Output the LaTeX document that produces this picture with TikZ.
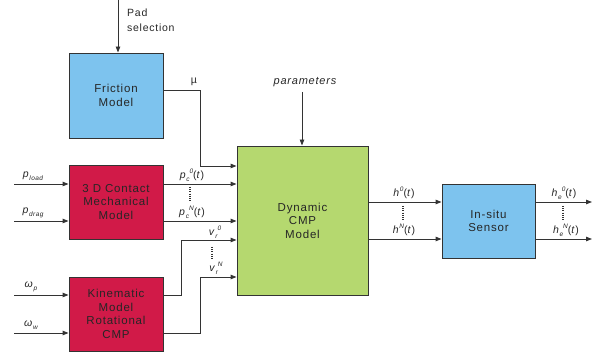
\documentclass[tikz,border=0pt]{standalone}
\usepackage{fontspec}
\setmainfont[LetterSpace=7]{Liberation Sans}
\usetikzlibrary{arrows.meta,calc}
\definecolor{fblue}{HTML}{7DC3EE}
\definecolor{fred}{HTML}{D11A48}
\definecolor{fgreen}{HTML}{B5D86F}
\definecolor{lgray}{HTML}{333333}
\newcommand{\sbsp}[3]{\textit{#1}\raisebox{-0.45ex}{\fontsize{6.5}{6}\selectfont\itshape #2}\raisebox{0.95ex}{\fontsize{6.5}{6}\selectfont\itshape #3}}
\newcommand{\sbx}[2]{\textit{#1}\raisebox{-0.45ex}{\fontsize{6.5}{6}\selectfont\itshape #2}}
\newcommand{\spx}[2]{\textit{#1}\raisebox{0.9ex}{\fontsize{6.5}{6}\selectfont\itshape #2}}
\begin{document}
\begin{tikzpicture}[x=1pt,y=-1pt,
  blk/.style={draw=lgray,line width=0.9pt,minimum width=94pt,minimum height=74pt,inner sep=1pt,align=center,font=\fontsize{11.5}{13.5}\selectfont,text=black!85},
  arr/.style={draw=lgray,line width=0.9pt,-{Triangle[length=6pt,width=4.5pt]}},
  lab/.style={font=\fontsize{10.5}{11}\selectfont,text=black!85,inner sep=0pt},
  dts/.style={draw=lgray,line width=1.3pt,dash pattern=on 1pt off 1.2pt}]
\useasboundingbox (0,0) rectangle (603,358);
\node[blk,fill=fblue,minimum height=85pt] (fric) at (116,95.5) {Friction\\Model};
\node[blk,fill=fred] (contact) at (116,202) {3 D Contact\\Mechanical\\Model};
\node[blk,fill=fred] (kin) at (116,314) {Kinematic\\Model\\Rotational\\CMP};
\node[blk,fill=fgreen,minimum width=131pt,minimum height=149pt] (dyn) at (302.5,220.5) {Dynamic\\CMP\\Model};
\node[blk,fill=fblue,minimum width=93pt] (sens) at (488.5,221) {In-situ\\Sensor};
% top inputs
\coordinate (padtop) at (118,0);
\draw[arr] (padtop) -- (padtop |- fric.north);
\node[lab,align=left,anchor=west,font=\fontsize{10.5}{15}\selectfont] (padlab) at (127,20) {Pad\\selection};
\coordinate (partop) at (302,92);
\draw[arr] (partop) -- (partop |- dyn.north);
\node[lab,font=\fontsize{11}{11}\selectfont\itshape] (parlab) at (305,82) {parameters};
% mu
\coordinate (mu1) at (163,90);
\draw[arr] (mu1) -- (200,90) |- (dyn.west |- 0,166);
\node[lab] (mulab) at (194,82) {µ};
% pc
\coordinate (pc0) at (163,184);
\coordinate (pcN) at (163,221);
\draw[arr] (pc0) -- (dyn.west |- pc0);
\draw[arr] (pcN) -- (dyn.west |- pcN);
\node[lab] (pc0lab) at (192,175) {\sbsp{p}{c}{0}(\textit{t})};
\node[lab] (pcNlab) at (192,212) {\sbsp{p}{c}{N}(\textit{t})};
\draw[dts] (190,187) -- (190,202);
% vr
\coordinate (vr0) at (163,295);
\coordinate (vrN) at (163,333);
\draw[arr] (vr0) -- (181,295) |- (dyn.west |- 0,240);
\draw[arr] (vrN) -- (200,333) |- (dyn.west |- 0,277);
\node[lab] (vr0lab) at (215,232) {\sbsp{v}{r}{0}};
\node[lab] (vrNlab) at (216,268) {\sbsp{v}{r}{N}};
\draw[dts] (212,247) -- (212,260);
% left inputs
\coordinate (pl) at (14,184);
\coordinate (pd) at (14,221);
\coordinate (wp) at (14,295);
\coordinate (ww) at (14,333);
\draw[arr] (pl) -- (contact.west |- pl);
\draw[arr] (pd) -- (contact.west |- pd);
\draw[arr] (wp) -- (kin.west |- wp);
\draw[arr] (ww) -- (kin.west |- ww);
\node[lab] (pllab) at (33,176) {\sbx{p}{load}};
\node[lab] (pdlab) at (33,213) {\sbx{p}{drag}};
\node[lab] (wplab) at (31,287) {\textit{ω}\raisebox{-0.45ex}{\fontsize{6.5}{6}\selectfont\itshape p}};
\node[lab] (wwlab) at (31,325) {\textit{ω}\raisebox{-0.45ex}{\fontsize{6.5}{6}\selectfont\itshape w}};
% h
\coordinate (h0) at (dyn.east |- 0,202);
\coordinate (hN) at (dyn.east |- 0,239);
\draw[arr] (h0) -- (sens.west |- h0);
\draw[arr] (hN) -- (sens.west |- hN);
\node[lab] (h0lab) at (404,193) {\spx{h}{0}(\textit{t})};
\node[lab] (hNlab) at (404,230) {\spx{h}{N}(\textit{t})};
\draw[dts] (403,206) -- (403,221);
% outputs
\coordinate (he0) at (592,202);
\coordinate (heN) at (592,239);
\draw[arr] (sens.east |- he0) -- (he0);
\draw[arr] (sens.east |- heN) -- (heN);
\node[lab] (he0lab) at (564,193) {\sbsp{h}{e}{0}(\textit{t})};
\node[lab] (heNlab) at (566,230) {\sbsp{h}{e}{N}(\textit{t})};
\draw[dts] (563,206) -- (563,221);
\end{tikzpicture}
\end{document}
